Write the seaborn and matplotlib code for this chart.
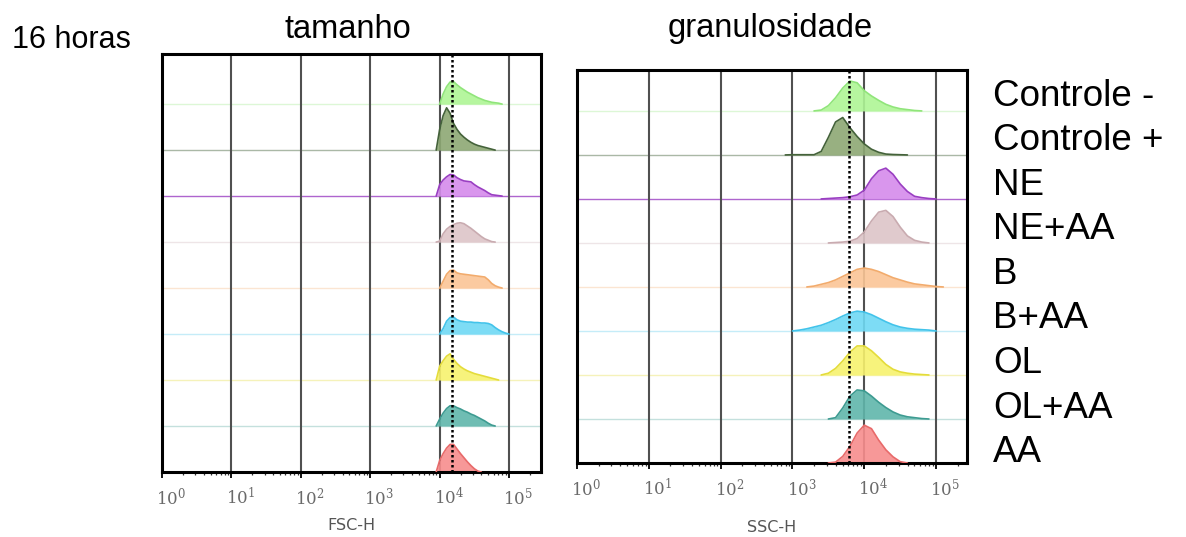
import numpy as np
import pandas as pd
import matplotlib
matplotlib.use("Agg")
import matplotlib.pyplot as plt
import matplotlib.transforms as mtransforms
from matplotlib.ticker import FixedLocator, LogLocator, NullFormatter
import seaborn as sns

# ---------------- data ----------------
samples = ["Controle -", "Controle +", "NE", "NE+AA", "B", "B+AA", "OL", "OL+AA", "AA"]
decade_labels = [r"$10^{0}$", r"$10^{1}$", r"$10^{2}$", r"$10^{3}$", r"$10^{4}$", r"$10^{5}$"]

# FSC-H (tamanho): log10 channel grid and modal heights (fraction of a row)
fsc_log = [3.95, 4.00, 4.05, 4.10, 4.15, 4.20, 4.25, 4.30, 4.35, 4.40, 4.45, 4.50,
           4.55, 4.60, 4.65, 4.70, 4.75, 4.80, 4.85, 4.90, 4.95, 5.00, 5.05]
fsc_ctrl_neg = [0, 0.00, 0.22, 0.38, 0.48, 0.49, 0.42, 0.36, 0.31, 0.26, 0.22, 0.18, 0.14, 0.11, 0.08, 0.06, 0.04, 0.03, 0.02, 0, 0, 0, 0]
fsc_ctrl_pos = [0, 0.45, 0.75, 0.92, 0.80, 0.58, 0.45, 0.35, 0.28, 0.22, 0.17, 0.13, 0.10, 0.08, 0.06, 0.04, 0.02, 0, 0, 0, 0, 0, 0]
fsc_ne       = [0, 0.25, 0.35, 0.42, 0.47, 0.46, 0.40, 0.36, 0.33, 0.32, 0.31, 0.25, 0.20, 0.16, 0.12, 0.07, 0.03, 0.02, 0.01, 0, 0, 0, 0]
fsc_ne_aa    = [0, 0.02, 0.18, 0.28, 0.34, 0.38, 0.41, 0.42, 0.40, 0.35, 0.30, 0.24, 0.18, 0.12, 0.07, 0.04, 0.01, 0, 0, 0, 0, 0, 0]
fsc_b        = [0, 0, 0.15, 0.30, 0.38, 0.39, 0.33, 0.31, 0.30, 0.29, 0.28, 0.27, 0.26, 0.25, 0.24, 0.18, 0.10, 0.05, 0.02, 0, 0, 0, 0]
fsc_b_aa     = [0, 0, 0.12, 0.28, 0.36, 0.37, 0.31, 0.28, 0.27, 0.26, 0.26, 0.25, 0.25, 0.24, 0.24, 0.23, 0.20, 0.14, 0.09, 0.05, 0.02, 0, 0]
fsc_ol       = [0, 0.30, 0.42, 0.52, 0.57, 0.45, 0.36, 0.29, 0.24, 0.20, 0.17, 0.14, 0.12, 0.10, 0.08, 0.06, 0.04, 0.02, 0, 0, 0, 0, 0]
fsc_ol_aa    = [0, 0.15, 0.28, 0.38, 0.44, 0.44, 0.40, 0.37, 0.33, 0.30, 0.26, 0.23, 0.19, 0.15, 0.11, 0.06, 0.02, 0, 0, 0, 0, 0, 0]
fsc_aa       = [0, 0.25, 0.40, 0.52, 0.60, 0.60, 0.50, 0.40, 0.31, 0.22, 0.14, 0.07, 0.02, 0, 0, 0, 0, 0, 0, 0, 0, 0, 0]

# SSC-H (granulosidade)
ssc_log = [2.9, 3.0, 3.1, 3.2, 3.3, 3.4, 3.5, 3.6, 3.7, 3.8, 3.9, 4.0,
           4.1, 4.2, 4.3, 4.4, 4.5, 4.6, 4.7, 4.8, 4.9, 5.0, 5.1]
ssc_ctrl_neg = [0, 0, 0, 0, 0, 0.02, 0.12, 0.30, 0.52, 0.68, 0.64, 0.46, 0.34, 0.24, 0.15, 0.09, 0.05, 0.03, 0.01, 0, 0, 0, 0]
ssc_ctrl_pos = [0, 0.005, 0.005, 0.005, 0.005, 0.08, 0.40, 0.75, 0.85, 0.62, 0.42, 0.25, 0.13, 0.06, 0.02, 0.01, 0.005, 0, 0, 0, 0, 0, 0]
ssc_ne       = [0, 0, 0, 0, 0, 0, 0.01, 0.02, 0.03, 0.05, 0.09, 0.20, 0.46, 0.64, 0.70, 0.56, 0.34, 0.17, 0.06, 0.03, 0.01, 0, 0]
ssc_ne_aa    = [0, 0, 0, 0, 0, 0, 0, 0.01, 0.02, 0.04, 0.10, 0.25, 0.50, 0.70, 0.74, 0.60, 0.36, 0.16, 0.06, 0.02, 0, 0, 0]
ssc_b        = [0, 0, 0, 0, 0.02, 0.06, 0.10, 0.16, 0.24, 0.32, 0.40, 0.43, 0.40, 0.35, 0.28, 0.21, 0.16, 0.11, 0.07, 0.05, 0.03, 0.01, 0]
ssc_b_aa     = [0, 0, 0.02, 0.05, 0.09, 0.13, 0.19, 0.26, 0.34, 0.41, 0.45, 0.43, 0.37, 0.29, 0.21, 0.14, 0.09, 0.06, 0.04, 0.03, 0.02, 0, 0]
ssc_ol       = [0, 0, 0, 0, 0, 0, 0.04, 0.15, 0.32, 0.52, 0.66, 0.66, 0.55, 0.40, 0.24, 0.13, 0.07, 0.04, 0.02, 0.01, 0, 0, 0]
ssc_ol_aa    = [0, 0, 0, 0, 0, 0, 0, 0.03, 0.25, 0.52, 0.66, 0.64, 0.52, 0.38, 0.26, 0.16, 0.09, 0.05, 0.03, 0.01, 0, 0, 0]
ssc_aa       = [0, 0, 0, 0, 0, 0, 0, 0.02, 0.15, 0.38, 0.68, 0.86, 0.78, 0.52, 0.30, 0.14, 0.03, 0, 0, 0, 0, 0, 0]

fsc_ref = 15000   # dotted reference line (FSC-H)
ssc_ref = 6200    # dotted reference line (SSC-H)

# ---------------- style ----------------
fill_colors = ["#aef595", "#8da873", "#d58bec", "#ddc5c8", "#fbc596", "#6fd9f4", "#f7f26e", "#5fb6ab", "#f78d8d"]
edge_colors = ["#90e57a", "#44623a", "#9a3fc2", "#c9abb0", "#f2ab6c", "#42c3ea", "#e4dc3a", "#3d9b91", "#e86a6a"]
base_alpha  = [0.30, 0.45, 0.80, 0.30, 0.30, 0.30, 0.35, 0.30, 0.30]

sns.set_style("white")
plt.rcParams["font.family"] = ["Liberation Sans", "DejaVu Sans"]
plt.rcParams["mathtext.fontset"] = "dejavuserif"
plt.rcParams["text.color"] = "black"

W, H = 1186, 537
fig = plt.figure(figsize=(W / 100, H / 100), dpi=100)

def fig_rect(x0, y0, x1, y1):
    return [x0 / W, 1 - y1 / H, (x1 - x0) / W, (y1 - y0) / H]

ax_l = fig.add_axes(fig_rect(162, 54, 541, 472))
ax_r = fig.add_axes(fig_rect(577, 70, 967, 463))

fsc_sets = [fsc_ctrl_neg, fsc_ctrl_pos, fsc_ne, fsc_ne_aa, fsc_b, fsc_b_aa, fsc_ol, fsc_ol_aa, fsc_aa]
ssc_sets = [ssc_ctrl_neg, ssc_ctrl_pos, ssc_ne, ssc_ne_aa, ssc_b, ssc_b_aa, ssc_ol, ssc_ol_aa, ssc_aa]


def build_frame(grid, sets):
    rows = []
    n = len(samples)
    for i, (name, vals) in enumerate(zip(samples, sets)):
        base = n - 1 - i
        v = np.asarray(vals, float)
        nz = np.nonzero(v)[0]
        lo, hi = max(nz[0] - 1, 0), min(nz[-1] + 1, len(v) - 1)
        for j in range(lo, hi + 1):
            rows.append({"sample": name, "x": 10 ** grid[j], "base": base, "y": base + v[j]})
    return pd.DataFrame(rows)


def draw_panel(ax, grid, sets, xmax, ymax, ref, xlabel, label_y):
    df = build_frame(grid, sets)
    ax.set_xscale("log")
    ax.set_xlim(1, xmax)
    ax.set_ylim(0, ymax)
    n = len(samples)
    for i, name in enumerate(samples):
        ax.axhline(n - 1 - i, color=edge_colors[i], alpha=base_alpha[i], lw=1.0, zorder=1)
    for i, name in enumerate(samples):
        d = df[df["sample"] == name]
        ax.fill_between(d["x"], d["base"], d["y"], color=fill_colors[i], alpha=0.9, lw=0, zorder=2)
    sns.lineplot(data=df, x="x", y="y", hue="sample", palette=dict(zip(samples, edge_colors)),
                 units="sample", estimator=None, sort=False, legend=False, lw=1.2, ax=ax, zorder=3)
    for k in range(1, 6):
        ax.axvline(10 ** k, color="#505050", lw=1.5, zorder=1.5)
    ax.axvline(ref, color="black", lw=1.8, ls=(0, (1, 1)), zorder=4, clip_on=False)
    for s in ax.spines.values():
        s.set_color("black")
        s.set_linewidth(2.2)
    ax.set_yticks([])
    ax.set_ylabel("")
    ax.xaxis.set_major_locator(FixedLocator([10 ** k for k in range(6)]))
    ax.xaxis.set_minor_locator(LogLocator(base=10, subs=np.arange(2, 10), numticks=20))
    ax.xaxis.set_minor_formatter(NullFormatter())
    ax.set_xticklabels(decade_labels)
    ax.tick_params(axis="x", which="major", direction="out", length=4, width=1.3, color="black",
                   pad=6, labelsize=12, labelcolor="#6a6a6a", bottom=True)
    ax.tick_params(axis="x", which="minor", direction="out", length=2.5, width=0.9, color="#333333", bottom=True)
    off = mtransforms.ScaledTranslation(0.09, 0, fig.dpi_scale_trans)
    for lab in ax.get_xticklabels():
        lab.set_transform(lab.get_transform() + off)
    ax.set_xlabel(xlabel, fontsize=11.5, color="#555555", family=["DejaVu Sans"])
    ax.xaxis.set_label_coords(0.5, label_y)


draw_panel(ax_l, fsc_log, fsc_sets, 10 ** 5.46, 9.09, fsc_ref, "FSC-H", -0.11)
draw_panel(ax_r, ssc_log, ssc_sets, 10 ** 5.43, 8.93, ssc_ref, "SSC-H", -0.145)

fig.text(12 / W, 1 - 48 / H, "16 horas", fontsize=22, va="baseline", ha="left", color="black")
fig.text(348 / W, 1 - 38 / H, "tamanho", fontsize=23.5, va="baseline", ha="center", color="black")
fig.text(770 / W, 1 - 37 / H, "granulosidade", fontsize=23.5, va="baseline", ha="center", color="black")
for i, name in enumerate(samples):
    yc = 96 + i * 44.6
    fig.text(993 / W, 1 - yc / H, name, fontsize=26.5, va="center", ha="left", color="black")

fig.savefig("out.png", dpi=100, facecolor="white")
